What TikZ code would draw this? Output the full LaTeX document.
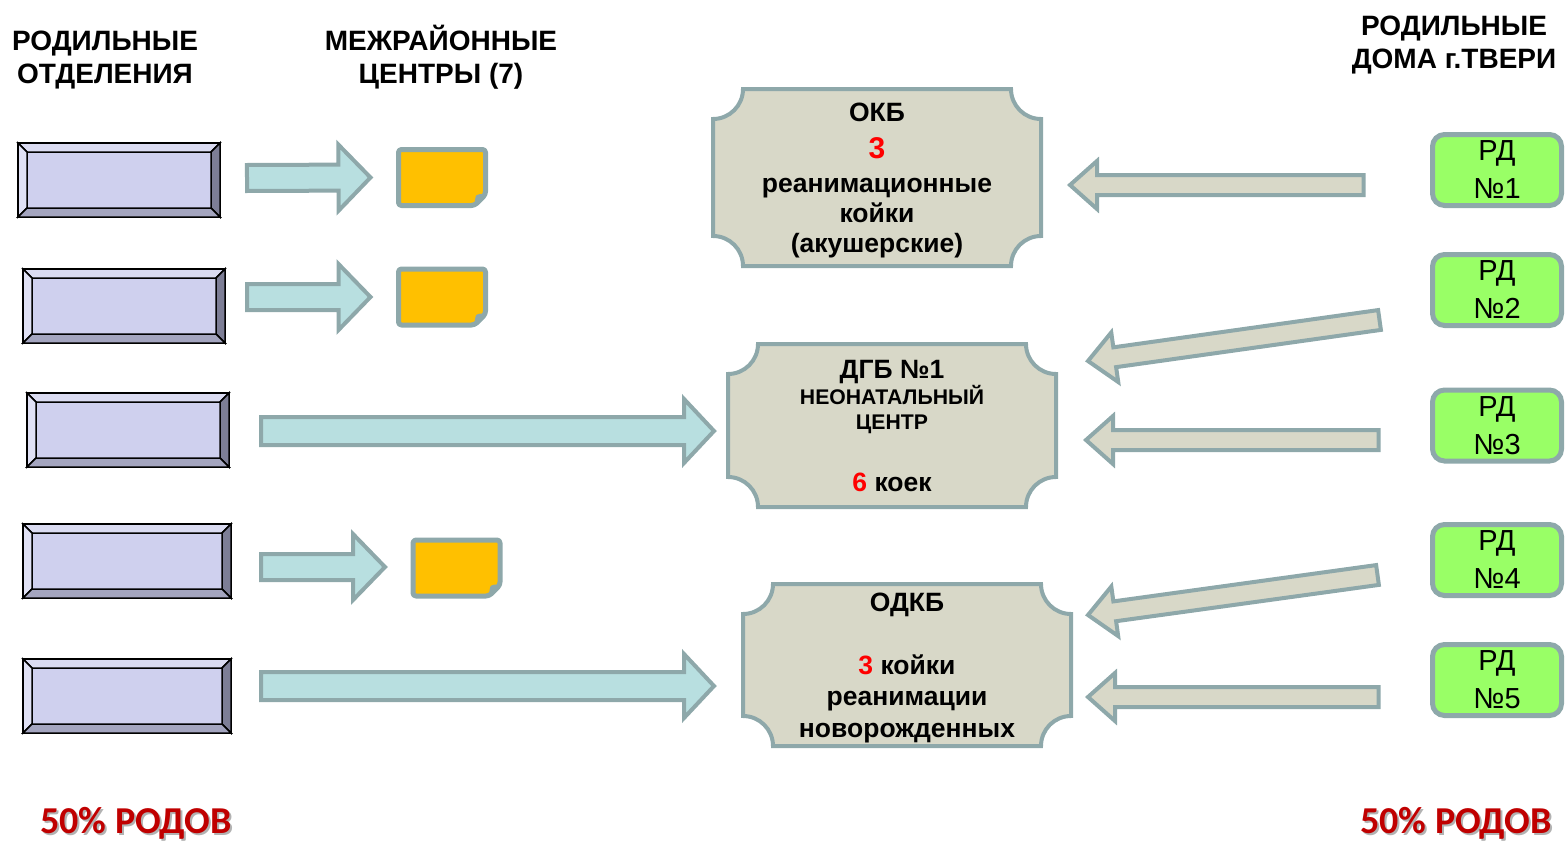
\documentclass[tikz,border=0pt]{standalone}
\usepackage{fontspec}
\setmainfont{Liberation Sans}
\newfontfamily\calibrifont{Carlito}
\usetikzlibrary{calc,backgrounds}

\definecolor{edgegray}{HTML}{8EA8AA}
\definecolor{plaquefill}{HTML}{D8D8C8}
\definecolor{arrowblue}{HTML}{B8DFE0}
\definecolor{notefill}{HTML}{FFC000}
\definecolor{rdgreen}{HTML}{99FF66}
\definecolor{bevmid}{HTML}{CFD0EE}
\definecolor{bevtop}{HTML}{DADBF1}
\definecolor{bevleft}{HTML}{E0E1F5}
\definecolor{bevright}{HTML}{7D7E96}
\definecolor{bevbottom}{HTML}{A4A5BF}
\definecolor{darkred}{HTML}{C00000}

\newcommand\fatarrow[6]{%
  \coordinate (fa-a) at #2;
  \coordinate (fa-b) at #3;
  \coordinate (fa-h) at ($(fa-b)!#6!(fa-a)$);
  \draw[#1] ($(fa-a)!#4!90:(fa-b)$) -- ($(fa-h)!#4!90:(fa-b)$) -- ($(fa-h)!#5!90:(fa-b)$) -- (fa-b)
    -- ($(fa-h)!#5!-90:(fa-b)$) -- ($(fa-h)!#4!-90:(fa-b)$) -- ($(fa-a)!#4!-90:(fa-b)$) -- cycle;
}

\tikzset{
  colhead/.style={font={\bfseries\fontsize{28}{33}\selectfont}, align=center, inner sep=0pt, text depth=0pt},
  bevelbox/.style={draw=black, line width=2pt, fill=bevmid, minimum height=74, inner sep=0pt, outer sep=0pt},
  bevline/.style={draw=black, line width=1.5pt},
  notebox/.style={minimum width=87, minimum height=56, inner sep=0pt, outer sep=0pt},
  notepaper/.style={draw=edgegray, line width=5pt, fill=notefill, rounded corners=3pt, line join=round},
  plaque/.style={align=center, inner sep=0pt, outer sep=0pt, text depth=0pt, minimum width=328,
    font={\bfseries\fontsize{26.5}{30}\selectfont}},
  plaqueframe/.style={draw=edgegray, line width=4pt, fill=plaquefill},
  rdbox/.style={draw=edgegray, line width=5pt, fill=rdgreen, rounded corners=12pt, align=center,
    minimum width=129, minimum height=71, inner sep=0pt, outer sep=0pt, text depth=0pt,
    font={\fontsize{29}{38}\selectfont}},
  bluearrow/.style={draw=edgegray, line width=4pt, fill=arrowblue},
  tanarrow/.style={draw=edgegray, line width=4pt, fill=plaquefill},
  rodov/.style={font={\calibrifont\bfseries\fontsize{38}{40}\selectfont}, text=darkred, inner sep=0pt, anchor=base},
  rodovshadow/.style={font={\calibrifont\bfseries\fontsize{38}{40}\selectfont}, text=black, opacity=0.3, inner sep=0pt, anchor=base}
}

\begin{document}
\begin{tikzpicture}[x=1pt,y=-1pt]
    \useasboundingbox (0,0) rectangle (1566,843);

    \node[colhead] (hdotd) at (105,57.5) {РОДИЛЬНЫЕ\\ОТДЕЛЕНИЯ};
    \node[colhead] (hdmrc) at (441,54.5) {МЕЖРАЙОННЫЕ\\ЦЕНТРЫ (7)};
    \node[colhead] (hdrd) at (1454,42) {РОДИЛЬНЫЕ\\ДОМА г.ТВЕРИ};

    \foreach \i/\x/\y/\w in {1/119/180/202, 2/124/306/202, 3/128/430/202, 4/127/561/208, 5/127/696/208} {
        \node[bevelbox, minimum width=\w] (lb\i) at (\x,\y) {};
        \filldraw[bevline, fill=bevtop] (lb\i.north west) -- (lb\i.north east) -- ($(lb\i.north east)+(-9,9)$) -- ($(lb\i.north west)+(9,9)$) -- cycle;
        \filldraw[bevline, fill=bevleft] (lb\i.north west) -- ($(lb\i.north west)+(9,9)$) -- ($(lb\i.south west)+(9,-9)$) -- (lb\i.south west) -- cycle;
        \filldraw[bevline, fill=bevright] (lb\i.north east) -- ($(lb\i.north east)+(-9,9)$) -- ($(lb\i.south east)+(-9,-9)$) -- (lb\i.south east) -- cycle;
        \filldraw[bevline, fill=bevbottom] (lb\i.south west) -- ($(lb\i.south west)+(9,-9)$) -- ($(lb\i.south east)+(-9,-9)$) -- (lb\i.south east) -- cycle;
    }

    \foreach \i/\x/\y in {1/442/177.5, 2/442/297, 3/456.5/568} {
        \node[notebox] (n\i) at (\x,\y) {};
        \draw[notepaper] (n\i.north west) -- (n\i.north east) -- ($(n\i.south east)+(0,-11)$) -- ($(n\i.south east)+(-11,0)$) -- (n\i.south west) -- cycle;
        \fill[edgegray] ($(n\i.south east)+(0,-11)$) .. controls ($(n\i.south east)+(-10,-12)$) .. ($(n\i.south east)+(-11,0)$) -- cycle;
    }

    \node[plaque, minimum height=177] (okb) at (877,177.5) {ОКБ\\[7pt]{\fontsize{30}{30}\selectfont\textcolor{red}{3}}\\[4pt]реанимационные\\койки\\(акушерские)};
    \node[plaque, minimum height=163] (dgb) at (892,425.5) {ДГБ №1\\[-4pt]{\fontsize{21.2}{25}\selectfont НЕОНАТАЛЬНЫЙ}\\[-5pt]{\fontsize{21.2}{25}\selectfont ЦЕНТР}\\[32pt]\textcolor{red}{6} коек};
    \node[plaque, minimum height=162, font={\bfseries\fontsize{26.5}{31.5}\selectfont}] (odkb) at (907,665) {ОДКБ\\[31.5pt]\textcolor{red}{3} койки\\реанимации\\новорожденных};
    \begin{scope}[on background layer]
        \foreach \p in {okb,dgb,odkb}
            \draw[plaqueframe] ($(\p.north west)+(30,0)$) -- ($(\p.north east)+(-30,0)$) arc[start angle=180, end angle=270, radius=30pt]
                -- ($(\p.south east)+(0,-30)$) arc[start angle=90, end angle=180, radius=30pt]
                -- ($(\p.south west)+(30,0)$) arc[start angle=0, end angle=90, radius=30pt]
                -- ($(\p.north west)+(0,30)$) arc[start angle=270, end angle=360, radius=30pt] -- cycle;
    \end{scope}

    \foreach \i/\y in {1/170, 2/290, 3/425.5, 4/560, 5/680}
        \node[rdbox] (rd\i) at (1497,\y) {РД\\№\i};

    \fatarrow{bluearrow}{($(lb1.east)+(27,-2)$)}{($(n1.west)+(-28,0)$)}{13pt}{33pt}{32pt}
    \fatarrow{bluearrow}{($(lb2.east)+(22,-9)$)}{($(n2.west)+(-28,0)$)}{13pt}{33pt}{32pt}
    \fatarrow{bluearrow}{($(lb3.east)+(32,1)$)}{($(dgb.west)+(-14,5.5)$)}{14pt}{32pt}{30pt}
    \fatarrow{bluearrow}{($(lb4.east)+(30,6)$)}{($(n3.west)+(-28,-1)$)}{13pt}{33pt}{32pt}
    \fatarrow{bluearrow}{($(lb5.east)+(30,-10)$)}{($(odkb.west)+(-29,21)$)}{14pt}{32pt}{30pt}

    \fatarrow{tanarrow}{($(rd1.west)+(-69,15)$)}{($(okb.east)+(29,7.5)$)}{10pt}{24pt}{27pt}
    \fatarrow{tanarrow}{($(rd2.west)+(-53,30)$)}{($(dgb.east)+(32,-64.5)$)}{10pt}{25pt}{27pt}
    \fatarrow{tanarrow}{($(rd3.west)+(-54,14.5)$)}{($(dgb.east)+(30,14.5)$)}{10pt}{24pt}{27pt}
    \fatarrow{tanarrow}{($(rd4.west)+(-55,15)$)}{($(odkb.east)+(17,-50)$)}{10pt}{25pt}{27pt}
    \fatarrow{tanarrow}{($(rd5.west)+(-54,17)$)}{($(odkb.east)+(17,32)$)}{10pt}{24pt}{27pt}

    \node[rodovshadow] (rodlsh) at (138,835) {50\% РОДОВ};
    \node[rodov] (rodl) at (136,833) {50\% РОДОВ};
    \node[rodovshadow] (rodrsh) at (1458,835) {50\% РОДОВ};
    \node[rodov] (rodr) at (1456,833) {50\% РОДОВ};
\end{tikzpicture}
\end{document}
